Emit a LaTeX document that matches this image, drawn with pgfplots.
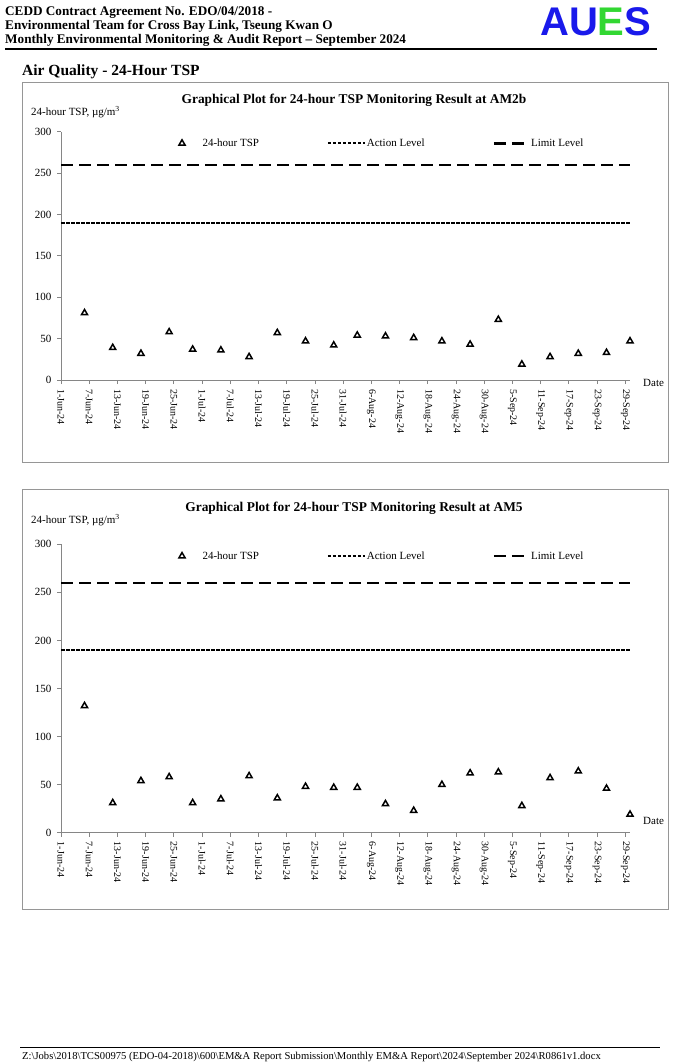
\documentclass[border=0pt]{standalone}
\usepackage{fontspec}
\setmainfont{Liberation Serif}
\newfontfamily\arialfont{Liberation Sans}
\usepackage{pgfplots}
\usepackage{pgfplotstable}
\pgfplotsset{compat=1.18}
\definecolor{auesblue}{RGB}{25,25,235}
\definecolor{auesgreen}{RGB}{50,215,50}
\definecolor{axgray}{RGB}{134,134,134}
\definecolor{framegray}{RGB}{150,150,150}

\pgfplotstableread{
day val
5 81
11 39
17 32
23 58
28 37
34 36
40 28
46 57
52 47
58 42
63 54
69 53
75 51
81 47
87 43
93 73
98 19
104 28
110 32
116 33
121 47
}\amtwob

\pgfplotstableread{
day val
5 132
11 31
17 54
23 58
28 31
34 35
40 59
46 36
52 48
58 47
63 47
69 30
75 23
81 50
87 62
93 63
98 28
104 57
110 64
116 46
121 19
}\amfive

\pgfplotsset{
  tspaxis/.style={
    scale only axis, width=569pt,
    xmin=0, xmax=121, ymin=0, ymax=300,
    axis x line*=bottom, axis y line*=left,
    axis line style={axgray, line width=0.8pt},
    xtick={0,6,...,120},
    xticklabels={1-Jun-24,7-Jun-24,13-Jun-24,19-Jun-24,25-Jun-24,1-Jul-24,7-Jul-24,13-Jul-24,19-Jul-24,25-Jul-24,31-Jul-24,6-Aug-24,12-Aug-24,18-Aug-24,24-Aug-24,30-Aug-24,5-Sep-24,11-Sep-24,17-Sep-24,23-Sep-24,29-Sep-24},
    ytick={0,50,...,300},
    tick align=outside, major tick length=4pt,
    tick style={axgray, line width=0.8pt},
    xticklabel style={rotate=-90, anchor=west, font=\fontsize{10}{11}\selectfont, inner xsep=5pt},
    yticklabel style={font=\fontsize{11}{12}\selectfont, xshift=-2pt},
    /pgf/number format/assume math mode=true,
    clip=false,
    legend columns=3,
    legend style={draw=none, fill=none, font=\fontsize{11}{12}\selectfont, anchor=west,
      inner sep=0pt, nodes={inner xsep=0pt, inner ysep=1pt},
      /tikz/every odd column/.append style={column sep=0pt},
      /tikz/every even column/.append style={column sep=68pt}},
  },
  tspmark/.style={only marks, mark=triangle, mark size=3.5pt,
    mark options={solid, draw=black, line width=1.5pt},
    legend image code/.code={\path (0pt,-3pt) (29pt,3pt);
      \draw[##1] plot coordinates {(8.7pt,0pt)};}},
  actline/.style={black, line width=1.8pt, dash pattern=on 3.5pt off 1.5pt,
    legend image code/.code={\path (0pt,-3pt) (38pt,3pt);
      \draw[##1] (0pt,0pt) -- (37pt,0pt);}},
  limline/.style={black, line width=2.5pt, dash pattern=on 12pt off 6pt,
    legend image code/.code={\path (0pt,-3pt) (36pt,3pt);
      \draw[##1] (0pt,0pt) -- (35pt,0pt);}},
}

\begin{document}
\begin{tikzpicture}
\useasboundingbox (0pt,0pt) rectangle (676pt,-1064pt);

% header
\node[anchor=base west, inner sep=0pt, font=\bfseries\fontsize{13.2}{14}\selectfont] at (5pt,-15.5pt) {CEDD Contract Agreement No. EDO/04/2018 -};
\node[anchor=base west, inner sep=0pt, font=\bfseries\fontsize{13.2}{14}\selectfont] at (5pt,-29.5pt) {Environmental Team for Cross Bay Link, Tseung Kwan O};
\node[anchor=base west, inner sep=0pt, font=\bfseries\fontsize{13.2}{14}\selectfont] at (5pt,-43.5pt) {Monthly Environmental Monitoring \& Audit Report -- September 2024};
\node[anchor=base west, inner sep=0pt, font=\arialfont\bfseries\fontsize{40}{41}\selectfont] at (540pt,-36pt) {\textcolor{auesblue}{AU}\textcolor{auesgreen}{E}\textcolor{auesblue}{S}};
\draw[black, line width=1.6pt] (5pt,-49pt) -- (657pt,-49pt);
\node[anchor=base west, inner sep=0pt, font=\bfseries\fontsize{15.5}{16}\selectfont] at (22pt,-76pt) {Air Quality - 24-Hour TSP};

% frames
\draw[framegray, line width=0.8pt] (22pt,-82pt) rectangle (668pt,-462pt);
\draw[framegray, line width=0.8pt] (22pt,-489pt) rectangle (668pt,-909pt);

% chart 1
\node[font=\bfseries\fontsize{13.4}{14}\selectfont] at (354pt,-100pt) {Graphical Plot for 24-hour TSP Monitoring Result at AM2b};
\node[anchor=west, inner sep=0pt, font=\fontsize{11}{12}\selectfont] at (31pt,-112pt) {24-hour TSP, µg/m\textsuperscript{3}};
\node[anchor=west, inner sep=0pt, font=\fontsize{11}{12}\selectfont] at (643pt,-383pt) {Date};
\begin{axis}[tspaxis, height=248.3pt, at={(61pt,-380pt)}, anchor=south west,
  legend style={at={(axis cs:23.8,286)}}]
\addplot[tspmark] table[x=day, y=val] {\amtwob};
\addlegendentry{24-hour TSP}
\addplot[actline] coordinates {(0,190) (121,190)};
\addlegendentry{Action Level}
\addplot[limline] coordinates {(0,260) (121,260)};
\addlegendentry{Limit Level}
\end{axis}

% chart 2
\node[font=\bfseries\fontsize{13.4}{14}\selectfont] at (354pt,-508pt) {Graphical Plot for 24-hour TSP Monitoring Result at AM5};
\node[anchor=west, inner sep=0pt, font=\fontsize{11}{12}\selectfont] at (31pt,-520pt) {24-hour TSP, µg/m\textsuperscript{3}};
\node[anchor=west, inner sep=0pt, font=\fontsize{11}{12}\selectfont] at (643pt,-821pt) {Date};
\begin{axis}[tspaxis, height=288.4pt, at={(61pt,-832.7pt)}, anchor=south west,
  legend style={at={(axis cs:23.8,287.8)}}]
\addplot[tspmark] table[x=day, y=val] {\amfive};
\addlegendentry{24-hour TSP}
\addplot[actline] coordinates {(0,190) (121,190)};
\addlegendentry{Action Level}
\addplot[limline] coordinates {(0,260) (121,260)};
\addlegendentry{Limit Level}
\end{axis}

% footer
\draw[black, line width=1pt] (20pt,-1047pt) -- (660pt,-1047pt);
\node[anchor=base west, inner sep=0pt, font=\fontsize{10.6}{11}\selectfont] at (22pt,-1059.5pt) {Z:\textbackslash Jobs\textbackslash 2018\textbackslash TCS00975 (EDO-04-2018)\textbackslash 600\textbackslash EM\&A Report Submission\textbackslash Monthly EM\&A Report\textbackslash 2024\textbackslash September 2024\textbackslash R0861v1.docx};
\end{tikzpicture}
\end{document}
